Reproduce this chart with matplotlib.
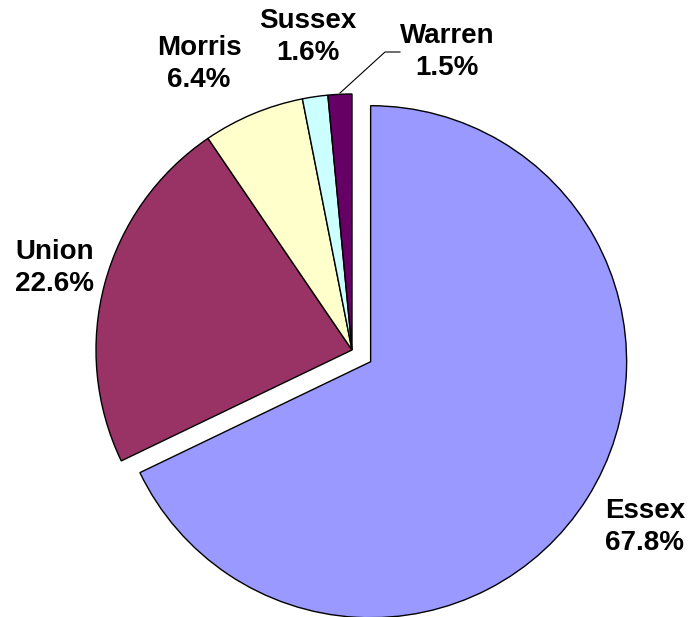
import matplotlib
matplotlib.use("Agg")
import matplotlib.pyplot as plt

# county shares (percent)
counties = ["Essex", "Union", "Morris", "Sussex", "Warren"]
shares = [67.8, 22.6, 6.4, 1.6, 1.5]
colors = ["#9999FF", "#993366", "#FFFFCC", "#CCFFFF", "#660066"]
explode = [22, 0, 0, 0, 0]  # pixel units (pie uses data units when center/radius are given)

H = 617
fig = plt.figure(figsize=(6.96, 6.17), dpi=100)
ax = fig.add_axes([0, 0, 1, 1])

ax.pie(shares, colors=colors, explode=explode, startangle=90, counterclock=False,
       center=(352, H - 350), radius=256, frame=True,
       wedgeprops=dict(edgecolor="black", linewidth=1.0))
ax.set_xlim(0, 696)
ax.set_ylim(0, H)
ax.set_aspect("equal")
ax.axis("off")

# label positions in pixel coords (x, y from top)
label_pos = [(645, 527), (55, 268), (199, 64), (308, 37), (447, 52)]
for name, val, (x, y) in zip(counties, shares, label_pos):
    ax.text(x, H - y, f"{name}\n{val:.1f}%", ha="center", va="center",
            fontsize=20, fontweight="bold", family="Liberation Sans",
            linespacing=1.3)

# leader line for Warren
ax.plot([340, 385, 400], [H - 93, H - 52, H - 52], color="black", linewidth=0.8)

fig.savefig("out.png", dpi=100)
